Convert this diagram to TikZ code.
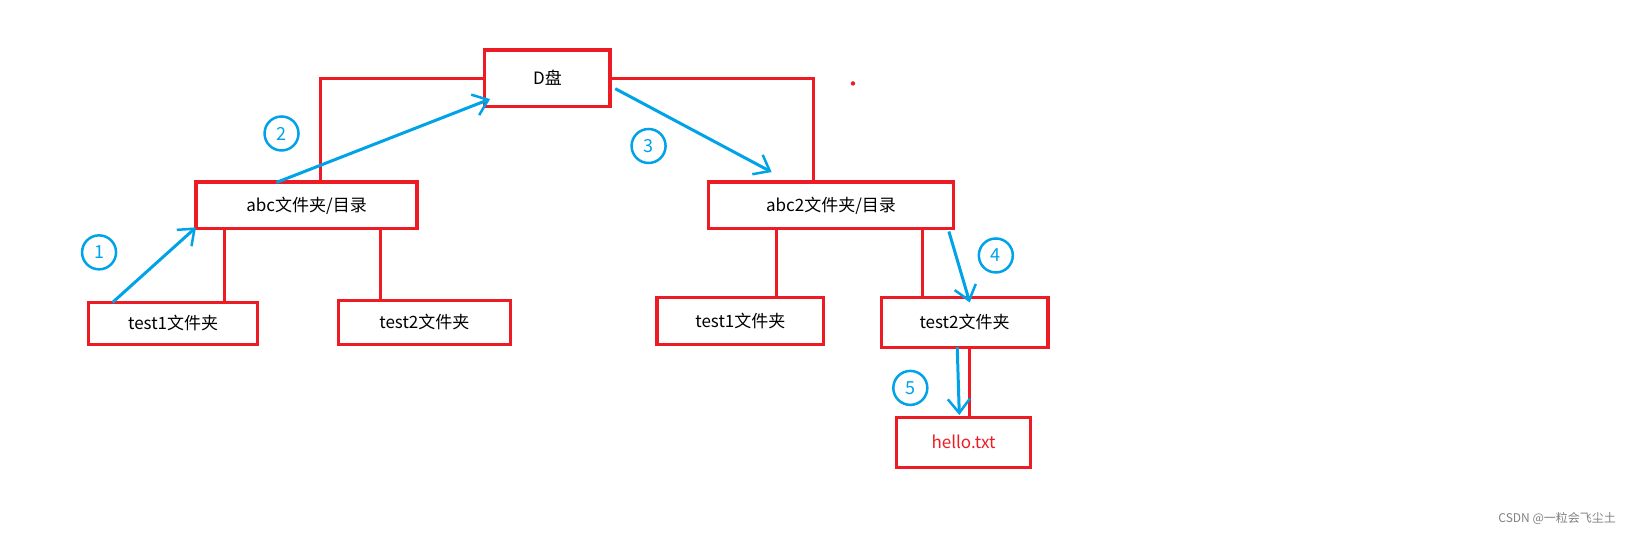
\documentclass[tikz,border=0pt]{standalone}
\usepackage{fontspec}
\setmainfont{Noto Sans CJK SC}
\usetikzlibrary{arrows.meta}
\definecolor{rd}{RGB}{237,28,36}
\definecolor{bl}{RGB}{0,162,232}
\begin{document}
\begin{tikzpicture}[x=1.043pt,y=-1.043pt,
 box/.style={draw=rd,line width=3.2pt,inner sep=0pt,font=\fontsize{17}{20}\selectfont},
 rl/.style={rd,line width=3pt},
 ba/.style={bl,line width=3pt,-{Straight Barb[length=14pt,width=22pt,line width=2.5pt]}},
 cn/.style={draw=bl,line width=2.5pt,circle,minimum size=34pt,inner sep=0pt,text=bl,font=\fontsize{18}{20}\selectfont}]
\useasboundingbox (0,0) rectangle (1568,515);
\node[box,minimum width=120pt*1.043,minimum height=54pt*1.043] (D) at (525,75) {D盘};
\node[box,minimum width=212pt*1.043,minimum height=45pt*1.043] (abc) at (294,197) {abc文件夹/目录};
\node[box,minimum width=235pt*1.043,minimum height=45pt*1.043] (abc2) at (797,197) {abc2文件夹/目录};
\node[box,minimum width=162pt*1.043,minimum height=40pt*1.043] (t1l) at (166,310) {test1文件夹};
\node[box,minimum width=165pt*1.043,minimum height=42pt*1.043] (t2l) at (407,309) {test2文件夹};
\node[box,minimum width=160pt*1.043,minimum height=45pt*1.043] (t1r) at (710,308) {test1文件夹};
\node[box,minimum width=160pt*1.043,minimum height=48pt*1.043] (t2r) at (925,309) {test2文件夹};
\node[box,minimum width=128pt*1.043,minimum height=48pt*1.043,text=rd] (hello) at (924,424) {hello.txt};
\coordinate (p1) at (307,75); \coordinate (p2) at (780,75);
\draw[rl] (abc.north -| p1) -- (p1) -- (D.west |- p1);
\draw[rl] (D.east |- p2) -- (p2) -- (abc2.north -| p2);
\fill[rd] (818,80) circle (2.2pt);
\draw[rl] (abc.south -| 215,0) -- (t1l.north -| 215,0);
\draw[rl] (abc.south -| 365,0) -- (t2l.north -| 365,0);
\draw[rl] (abc2.south -| 745,0) -- (t1r.north -| 745,0);
\draw[rl] (abc2.south -| 885,0) -- (t2r.north -| 885,0);
\draw[rl] (t2r.south -| 930,0) -- (hello.north -| 930,0);
\coordinate (a1) at (108,290); \coordinate (a1e) at (188,218);
\coordinate (a2) at (265,175); \coordinate (a2e) at (470,95);
\coordinate (a3) at (590,85); \coordinate (a3e) at (740,165);
\coordinate (a4) at (910,222); \coordinate (a4e) at (930,290);
\coordinate (a5) at (918,333); \coordinate (a5e) at (920,398);
\draw[ba] (a1) -- (a1e);
\draw[ba] (a2) -- (a2e);
\draw[ba] (a3) -- (a3e);
\draw[ba] (a4) -- (a4e);
\draw[ba] (a5) -- (a5e);
\node[cn] (c1) at (95,242) {1};
\node[cn] (c2) at (270,128) {2};
\node[cn] (c3) at (622,140) {3};
\node[cn] (c4) at (955,245) {4};
\node[cn] (c5) at (873,372) {5};
\node[text=gray,font=\fontsize{12}{14}\selectfont,anchor=east] (wm) at (1553,497) {CSDN @一粒会飞尘土};
\end{tikzpicture}
\end{document}
